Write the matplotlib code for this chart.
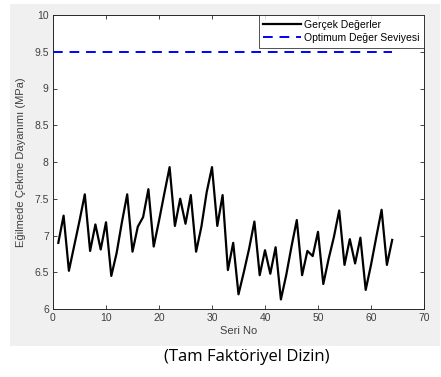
import matplotlib.pyplot as plt
from matplotlib.patches import Rectangle

# strength values per run (64 runs, full factorial)
seri_no = list(range(1, 65))
gercek = [6.90, 7.27, 6.52, 6.86, 7.20, 7.56, 6.79, 7.15, 6.81, 7.18,
          6.45, 6.76, 7.18, 7.56, 6.78, 7.12, 7.25, 7.63, 6.85, 7.20,
          7.57, 7.93, 7.13, 7.50, 7.16, 7.55, 6.78, 7.12, 7.59, 7.93,
          7.13, 7.55, 6.53, 6.90, 6.20, 6.50, 6.82, 7.19, 6.46, 6.80,
          6.48, 6.84, 6.13, 6.46, 6.85, 7.21, 6.46, 6.79, 6.72, 7.05,
          6.34, 6.68, 6.98, 7.34, 6.60, 6.95, 6.62, 6.97, 6.26, 6.60,
          6.98, 7.35, 6.60, 6.94]
optimum = 9.5

plt.rcParams['font.family'] = ['Liberation Sans', 'DejaVu Sans']

fig = plt.figure(figsize=(4.41, 3.77), dpi=100)
fig.patch.set_facecolor('white')

# grey figure panel behind the axes
fig.patches.append(Rectangle((10 / 441, 31 / 377), 430 / 441, 342 / 377,
                             transform=fig.transFigure, facecolor='#f0f0f0',
                             edgecolor='none', zorder=-5))

ax = fig.add_axes([53 / 441, 68 / 377, 371 / 441, 294 / 377])
ax.set_zorder(2)
ax.set_facecolor('white')

ax.plot(seri_no, gercek, color='black', lw=1.6, label='Gerçek Değerler')
ax.plot([0, seri_no[-1]], [optimum, optimum], color='blue', lw=1.4,
        dashes=(5, 3.5), label='Optimum Değer Seviyesi')

ax.set_xlim(0, 70)
ax.set_ylim(6, 10)
ax.set_xticks(range(0, 71, 10))
ax.set_yticks([6, 6.5, 7, 7.5, 8, 8.5, 9, 9.5, 10])
ax.set_yticklabels(['6', '6.5', '7', '7.5', '8', '8.5', '9', '9.5', '10'])
ax.tick_params(direction='in', top=True, right=True, length=3, width=0.6,
               labelsize=7.5, colors='#262626', labelcolor='#404040', pad=3)
for sp in ax.spines.values():
    sp.set_color('#262626')
    sp.set_linewidth(0.7)

ax.set_xlabel('Seri No', fontsize=8, color='#404040', labelpad=2)
ax.set_ylabel('Eğilmede Çekme Dayanımı (MPa)', fontsize=8, color='#404040',
              labelpad=6)

leg = ax.legend(loc='upper right', fontsize=7.5, frameon=True, fancybox=False,
                borderaxespad=0, handlelength=3.6, handletextpad=0.3,
                borderpad=0.45, labelspacing=0.3)
leg.get_frame().set_edgecolor('#262626')
leg.get_frame().set_linewidth(0.7)

fig.text(247 / 441, 1 - 357 / 377, '(Tam Faktöriyel Dizin)',
         ha='center', va='center', fontsize=12, family='Open Sans')

fig.savefig('out.png', dpi=100)
